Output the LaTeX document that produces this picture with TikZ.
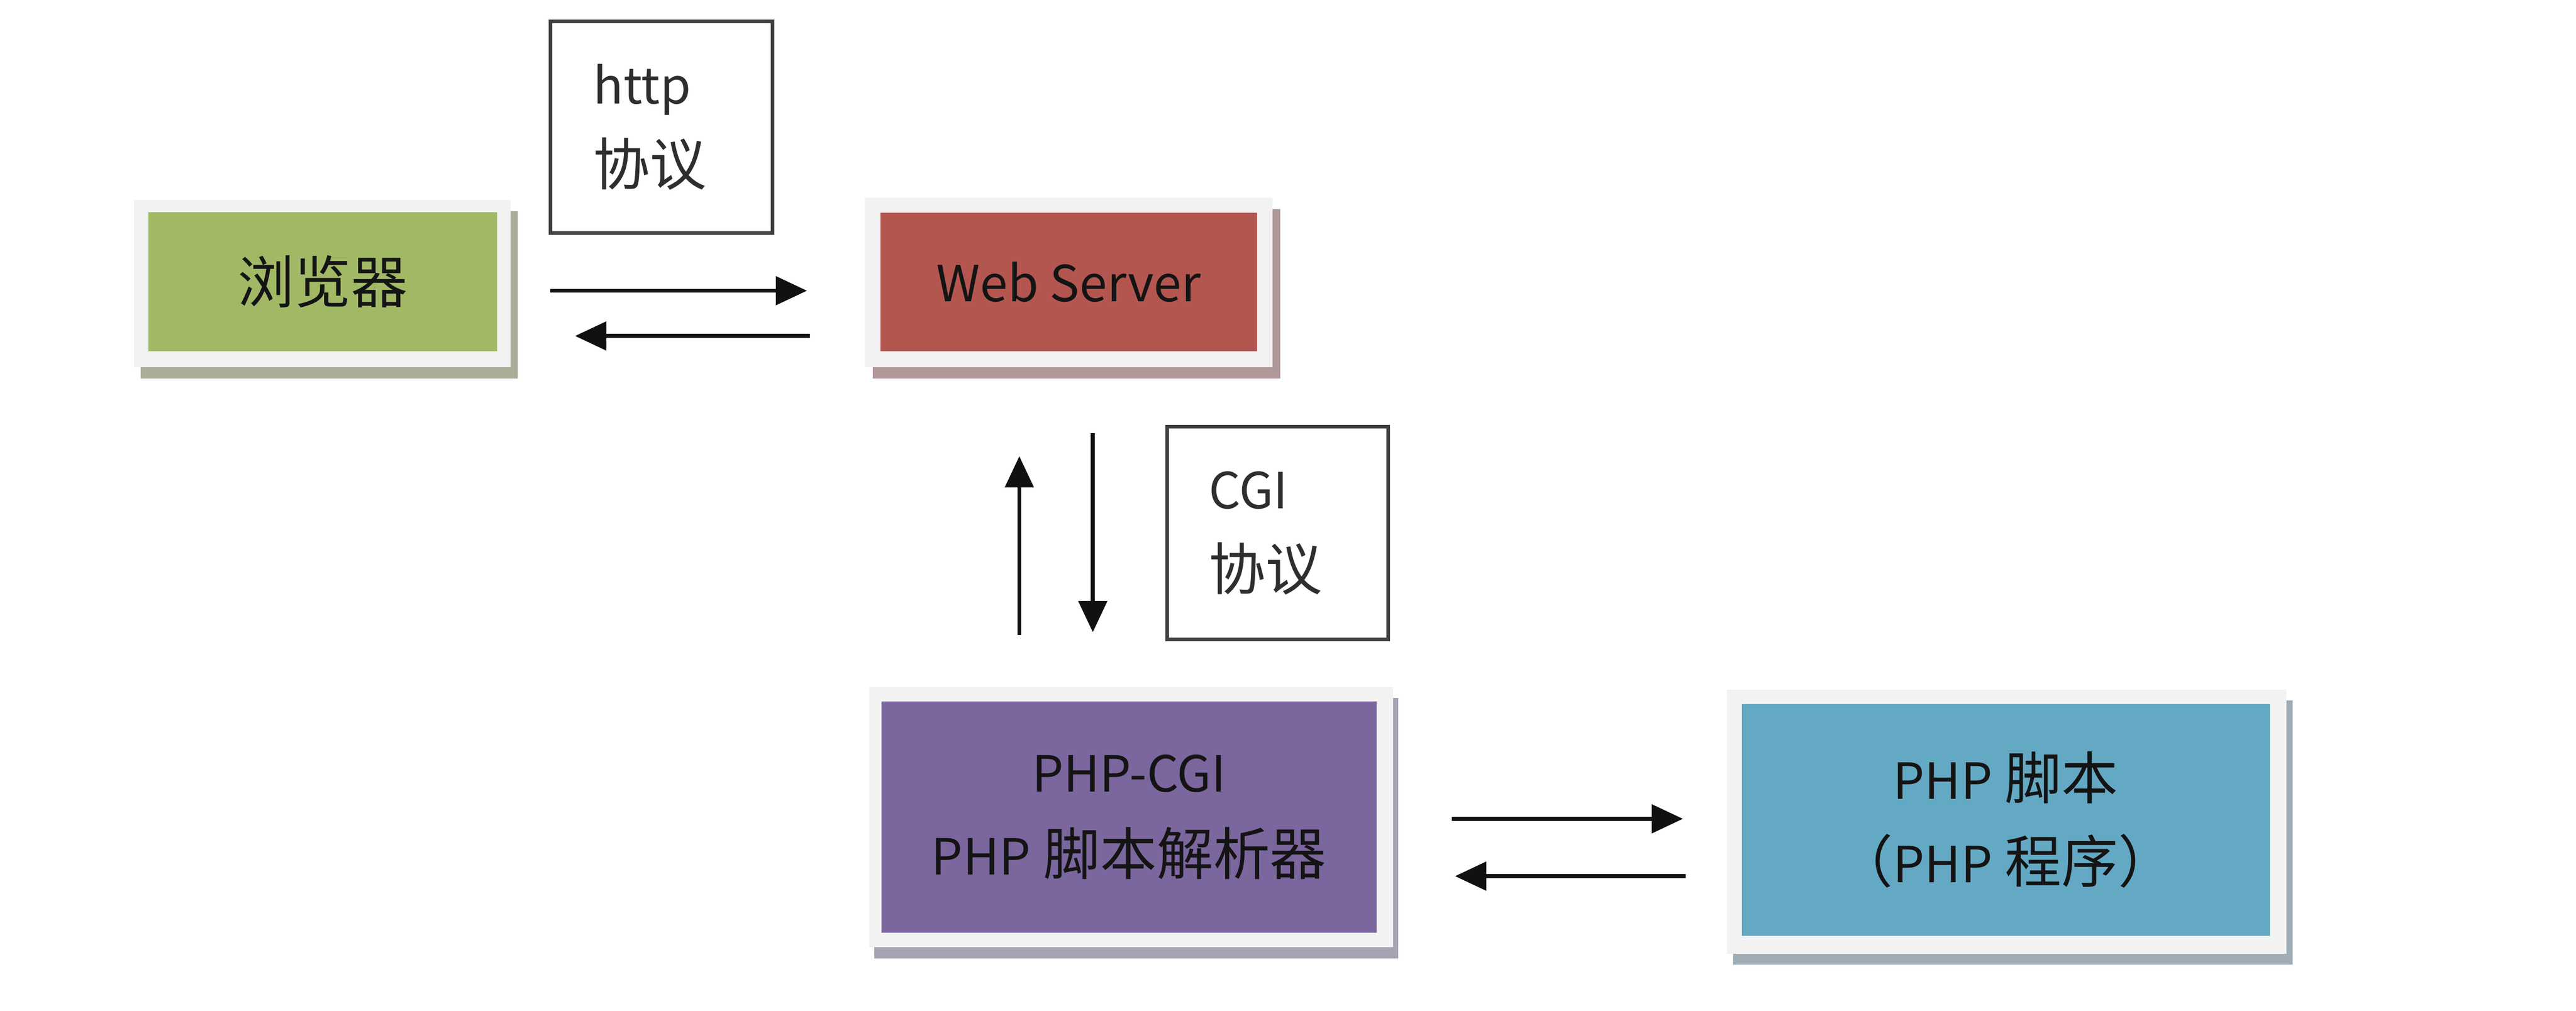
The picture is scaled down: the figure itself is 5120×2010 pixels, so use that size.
\documentclass[tikz,border=0pt]{standalone}
\usepackage{fontspec}
\setmainfont{Noto Sans CJK SC}
\newfontfamily\latn[Scale=0.88]{Noto Sans CJK SC}
\usetikzlibrary{arrows.meta,shadows}
\definecolor{gfill}{HTML}{A1B965}
\definecolor{rfill}{HTML}{B45650}
\definecolor{pfill}{HTML}{7B669E}
\definecolor{bfill}{HTML}{64A9C4}
\definecolor{framec}{HTML}{F1F2F1}
\definecolor{gshad}{HTML}{A8AE98}
\definecolor{rshad}{HTML}{B09898}
\definecolor{pshad}{HTML}{A8A3B2}
\definecolor{bshad}{HTML}{9EACB6}
\definecolor{txt}{HTML}{141414}
\definecolor{lbltxt}{HTML}{2E2E2E}
\definecolor{lblline}{HTML}{404040}
\definecolor{arrc}{HTML}{111111}
\tikzset{
  frame/.style={fill=framec, draw=none, inner sep=0pt},
  inbox/.style={draw=none, inner sep=0pt, align=center, text=txt,
    font=\fontsize{32}{47}\selectfont},
  lbl/.style={draw=lblline, line width=0.07cm, fill=white, inner ysep=0pt,
    align=left, text=lbltxt, font=\fontsize{32}{46}\selectfont},
  arr/.style={draw=arrc, line width=0.08cm,
    -{Triangle[length=0.62cm,width=0.56cm]}}
}
\begin{document}
\begin{tikzpicture}[x=0.01cm,y=-0.01cm]
\useasboundingbox (0,0) rectangle (5120,2010);
\fill[white] (0,0) rectangle (5120,2010);

% browser
\node[frame, minimum width=7.49cm, minimum height=3.33cm,
  general shadow={fill=gshad, shadow xshift=0.14cm, shadow yshift=-0.23cm}]
  (gF) at (640.5,563.5) {};
\node[inbox, fill=gfill, minimum width=6.93cm, minimum height=2.76cm]
  (g) at (641.5,560) {浏览器};

% web server
\node[frame, minimum width=8.09cm, minimum height=3.37cm,
  general shadow={fill=rshad, shadow xshift=0.15cm, shadow yshift=-0.23cm}]
  (rF) at (2124.5,561.5) {};
\node[inbox, fill=rfill, minimum width=7.48cm, minimum height=2.75cm]
  (r) at (2124,560.5) {{\latn Web Server}};

% php-cgi
\node[frame, minimum width=10.41cm, minimum height=5.17cm,
  general shadow={fill=pshad, shadow xshift=0.1cm, shadow yshift=-0.22cm}]
  (pF) at (2248.5,1624.5) {};
\node[inbox, fill=pfill, minimum width=9.84cm, minimum height=4.59cm]
  (p) at (2244,1624.5) {{\latn PHP-CGI}\\{\latn PHP} 脚本解析器};

% php script
\node[frame, minimum width=11.11cm, minimum height=5.25cm,
  general shadow={fill=bshad, shadow xshift=0.12cm, shadow yshift=-0.22cm}]
  (bF) at (3988.5,1633.5) {};
\node[inbox, fill=bfill, minimum width=10.49cm, minimum height=4.60cm]
  (b) at (3986.5,1630) {{\latn PHP} 脚本\\（{\latn PHP} 程序）};

% label boxes
\node[lbl, minimum height=4.2cm, text width=2.7cm, inner xsep=0.855cm]
  (http) at (1314.5,253) {{\latn http}\\协议};
\node[lbl, minimum height=4.23cm, text width=2.73cm, inner xsep=0.83cm]
  (cgi) at (2539.5,1060) {{\latn CGI}\\协议};

% arrow end points
\coordinate (a1s) at (1094,578);  \coordinate (a1e) at (1604,578);
\coordinate (a2s) at (1610,668);  \coordinate (a2e) at (1143,668);
\coordinate (a3s) at (2026,1263); \coordinate (a3e) at (2026,907);
\coordinate (a4s) at (2172,861);  \coordinate (a4e) at (2172,1257);
\coordinate (a5s) at (2886,1628); \coordinate (a5e) at (3345,1628);
\coordinate (a6s) at (3351,1742); \coordinate (a6e) at (2892,1742);

\draw[arr] (a1s) -- (a1e);
\draw[arr] (a2s) -- (a2e);
\draw[arr] (a3s) -- (a3e);
\draw[arr] (a4s) -- (a4e);
\draw[arr] (a5s) -- (a5e);
\draw[arr] (a6s) -- (a6e);
\end{tikzpicture}
\end{document}
